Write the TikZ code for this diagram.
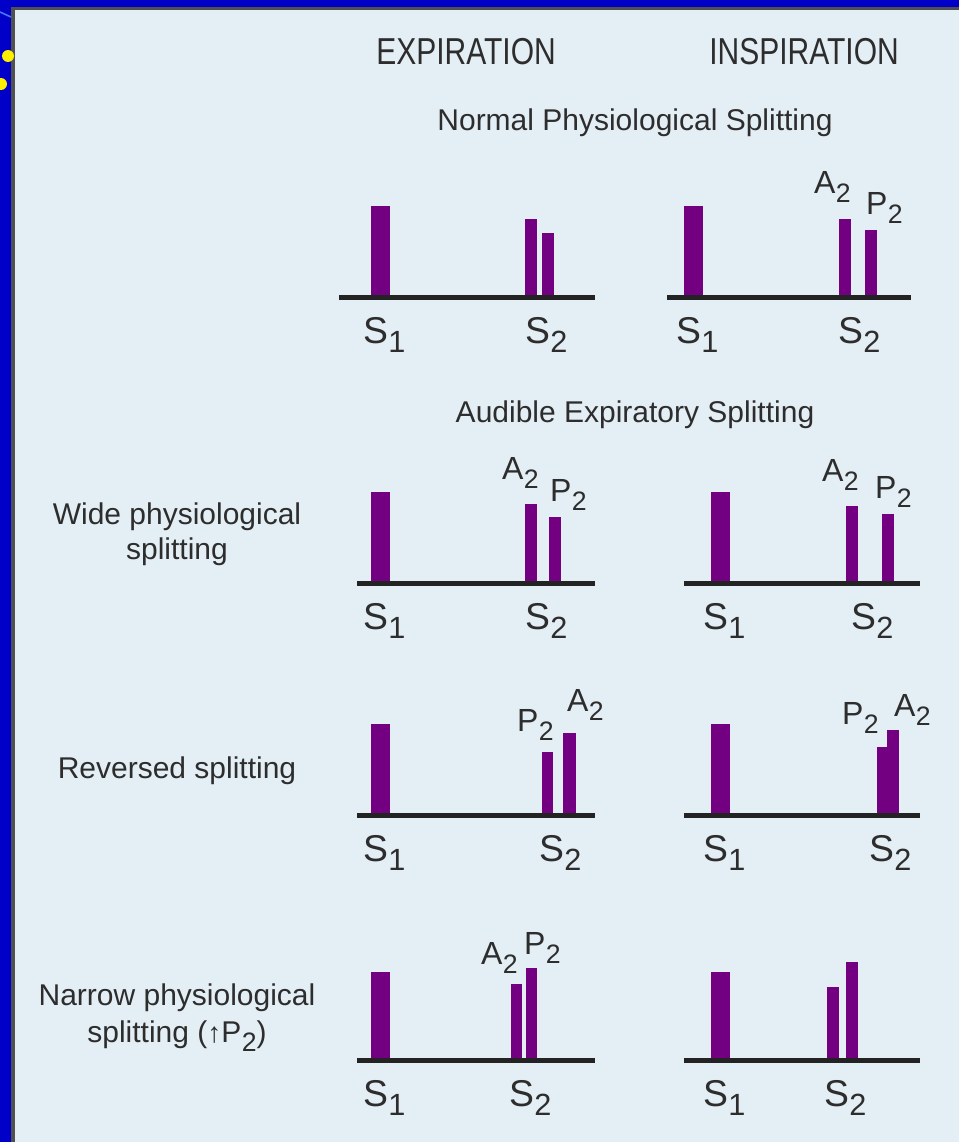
\documentclass[tikz,border=0pt]{standalone}
\usepackage{fontspec}
\setmainfont{Liberation Sans}
\usepackage{graphicx}

\definecolor{panel}{RGB}{228,238,245}
\definecolor{frameblue}{RGB}{0,0,200}
\definecolor{rim}{RGB}{80,80,80}
\definecolor{ink}{RGB}{45,45,45}
\definecolor{pulsecol}{RGB}{115,0,128}
\definecolor{axiscol}{RGB}{35,35,35}
\definecolor{dotcol}{RGB}{255,240,0}
\definecolor{streak}{RGB}{70,120,255}

% sound labels with large dropped subscripts
\newcommand{\Slab}[1]{S\kern0.3pt\raisebox{-6.8pt}{\fontsize{23}{23}\selectfont #1}}
\newcommand{\Clab}[2]{#1\kern0.3pt\raisebox{-7pt}{\fontsize{20}{20}\selectfont #2}}
\newcommand{\tall}[1]{\scalebox{1}[1.25]{#1}}

\tikzset{
  txt/.style={inner sep=0pt, outer sep=0pt, text=ink, font=\fontsize{22.5}{27}\selectfont},
  slabel/.style={txt, anchor=base west, font=\fontsize{28}{30}\selectfont},
  clabel/.style={txt, anchor=base west, font=\fontsize{24}{28}\selectfont},
  rowlabel/.style={txt, anchor=base},
  header/.style={txt, anchor=base},
  pulse/.style={fill=pulsecol},
  axis/.style={draw=axiscol, line width=3.75pt}
}

\newcommand{\pulseat}[4]{\fill[pulse] (#1,#3) rectangle (#2,#4);}

\begin{document}
\begin{tikzpicture}[x=0.75pt,y=-0.75pt]
\useasboundingbox (0,0) rectangle (959,1142);

% slide frame and panel
\fill[frameblue] (0,0) rectangle (959,1142);
\fill[rim] (11,7) rectangle (959,1142);
\fill[panel] (15,10) rectangle (959,1142);
\draw[streak, line width=1.2pt] (0,12) -- (11,17);
\fill[dotcol] (8,56) circle (6);
\fill[dotcol] (1,84) circle (6);

% column headers and section titles
\node[header] (hexp) at (466,64) {\tall{EXPIRATION}};
\node[header] (hins) at (804,64) {\tall{INSPIRATION}};
\node[header] (tnorm) at (635,130) {Normal Physiological Splitting};
\node[header] (taud) at (635,422) {Audible Expiratory Splitting};

% row labels
\node[rowlabel] (wide1) at (177,524) {Wide physiological};
\node[rowlabel] (wide2) at (177,559) {splitting};
\node[rowlabel] (rev) at (177,778) {Reversed splitting};
\node[rowlabel] (nar1) at (177,1005) {Narrow physiological};
\node[rowlabel] (nar2) at (177,1042) {splitting ({\fontsize{21}{21}\selectfont↑}\Clab{P}{2})};

% ---- row 1: normal physiological splitting ----
\pulseat{371}{390}{206}{297}
\pulseat{525}{537}{219}{297}
\pulseat{542}{554}{233}{297}
\draw[axis] (339,297) coordinate (e1a) -- (595,297) coordinate (e1b);
\node[slabel] (e1s1) at (363,343) {\Slab{1}};
\node[slabel] (e1s2) at (525,343) {\Slab{2}};

\pulseat{684}{703}{206}{297}
\pulseat{839}{851}{219}{297}
\pulseat{865}{877}{230}{297}
\draw[axis] (667,297) coordinate (i1a) -- (911,297) coordinate (i1b);
\node[slabel] (i1s1) at (676,343) {\Slab{1}};
\node[slabel] (i1s2) at (838,343) {\Slab{2}};
\node[clabel] (i1a2) at (814,193) {\Clab{A}{2}};
\node[clabel] (i1p2) at (866,214) {\Clab{P}{2}};

% ---- row 2: wide physiological splitting ----
\pulseat{371}{390}{492}{583}
\pulseat{525}{537}{504}{583}
\pulseat{549}{561}{517}{583}
\draw[axis] (357,583) coordinate (e2a) -- (595,583) coordinate (e2b);
\node[slabel] (e2s1) at (363,629) {\Slab{1}};
\node[slabel] (e2s2) at (525,629) {\Slab{2}};
\node[clabel] (e2a2) at (502,479) {\Clab{A}{2}};
\node[clabel] (e2p2) at (550,501) {\Clab{P}{2}};

\pulseat{711}{730}{492}{583}
\pulseat{846}{858}{506}{583}
\pulseat{882}{894}{514}{583}
\draw[axis] (684,583) coordinate (i2a) -- (920,583) coordinate (i2b);
\node[slabel] (i2s1) at (703,629) {\Slab{1}};
\node[slabel] (i2s2) at (851,629) {\Slab{2}};
\node[clabel] (i2a2) at (822,481) {\Clab{A}{2}};
\node[clabel] (i2p2) at (875,498) {\Clab{P}{2}};

% ---- row 3: reversed splitting ----
\pulseat{371}{390}{724}{815}
\pulseat{542}{553}{752}{815}
\pulseat{563}{576}{733}{815}
\draw[axis] (357,815) coordinate (e3a) -- (595,815) coordinate (e3b);
\node[slabel] (e3s1) at (363,861) {\Slab{1}};
\node[slabel] (e3s2) at (539,861) {\Slab{2}};
\node[clabel] (e3p2) at (517,731) {\Clab{P}{2}};
\node[clabel] (e3a2) at (567,711) {\Clab{A}{2}};

\pulseat{711}{730}{724}{815}
\pulseat{877}{888}{747}{815}
\pulseat{887}{899}{730}{815}
\draw[axis] (684,815) coordinate (i3a) -- (920,815) coordinate (i3b);
\node[slabel] (i3s1) at (703,861) {\Slab{1}};
\node[slabel] (i3s2) at (869,861) {\Slab{2}};
\node[clabel] (i3p2) at (842,724) {\Clab{P}{2}};
\node[clabel] (i3a2) at (894,716) {\Clab{A}{2}};

% ---- row 4: narrow physiological splitting ----
\pulseat{371}{390}{972}{1060}
\pulseat{511}{522}{984}{1060}
\pulseat{526}{537}{968}{1060}
\draw[axis] (357,1060) coordinate (e4a) -- (595,1060) coordinate (e4b);
\node[slabel] (e4s1) at (363,1106) {\Slab{1}};
\node[slabel] (e4s2) at (509,1106) {\Slab{2}};
\node[clabel] (e4a2) at (481,964) {\Clab{A}{2}};
\node[clabel] (e4p2) at (524,954) {\Clab{P}{2}};

\pulseat{711}{730}{972}{1060}
\pulseat{827}{839}{987}{1060}
\pulseat{846}{858}{962}{1060}
\draw[axis] (684,1060) coordinate (i4a) -- (920,1060) coordinate (i4b);
\node[slabel] (i4s1) at (703,1106) {\Slab{1}};
\node[slabel] (i4s2) at (824,1106) {\Slab{2}};
\end{tikzpicture}
\end{document}
